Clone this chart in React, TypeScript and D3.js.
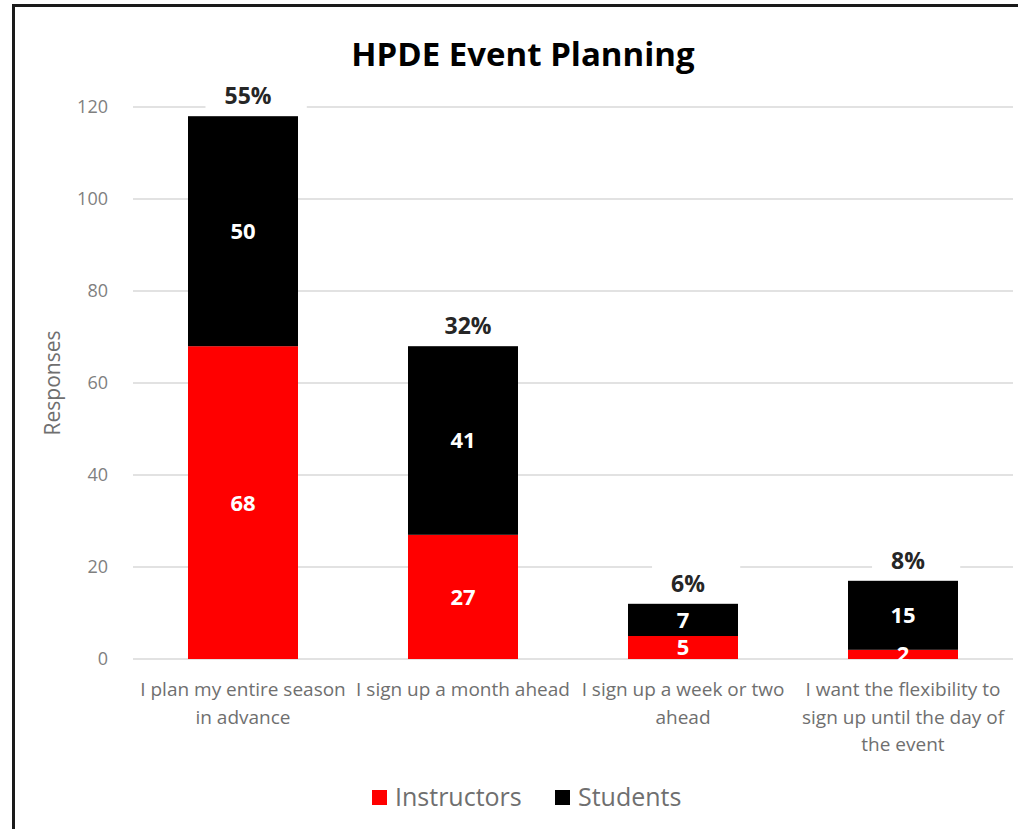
import React, { useEffect, useRef } from "react";
import * as d3 from "d3";

const categories = [
  "I plan my entire season\nin advance",
  "I sign up a month ahead",
  "I sign up a week or two\nahead",
  "I want the flexibility to\nsign up until the day of\nthe event",
];
const instructors = [68, 27, 5, 2];
const students = [50, 41, 7, 15];
const seriesNames = ["Instructors", "Students"];
const seriesColors = ["#ff0000", "#000000"];
const yTicks = [0, 20, 40, 60, 80, 100, 120];

const W = 1018;
const H = 829;
const FONT = "'Open Sans', sans-serif";

export default function App() {
  const ref = useRef<SVGSVGElement | null>(null);

  useEffect(() => {
    const svg = d3.select(ref.current);
    svg.selectAll("*").remove();

    svg.append("rect").attr("width", W).attr("height", H).attr("fill", "#fff");
    // frame
    svg.append("path")
      .attr("d", `M13.5,${H} L13.5,5.5 L${W},5.5`)
      .attr("fill", "none")
      .attr("stroke", "#1a1a1a")
      .attr("stroke-width", 3);

    const x = d3.scaleBand<number>()
      .domain(d3.range(categories.length))
      .range([133, 1013])
      .paddingInner(0.5)
      .paddingOuter(0.25);
    const y = d3.scaleLinear().domain([0, 120]).range([659, 107]);

    const g = svg.append("g");

    // gridlines
    g.selectAll("line.grid")
      .data(yTicks)
      .join("line")
      .attr("x1", 133)
      .attr("x2", 1013)
      .attr("y1", (d) => y(d))
      .attr("y2", (d) => y(d))
      .attr("stroke", "#d9d9d9")
      .attr("stroke-width", 1.3);

    // y tick labels
    g.selectAll("text.ytick")
      .data(yTicks)
      .join("text")
      .attr("x", 108)
      .attr("y", (d) => y(d))
      .attr("dy", "0.35em")
      .attr("text-anchor", "end")
      .attr("font-family", FONT)
      .attr("font-size", 18)
      .attr("fill", "#7f7f7f")
      .text((d) => d);

    // y axis title
    g.append("text")
      .attr("transform", `translate(60,383) rotate(-90)`)
      .attr("text-anchor", "middle")
      .attr("font-family", FONT)
      .attr("font-size", 21)
      .attr("fill", "#6f6f6f")
      .text("Responses");

    // stacked
    const rows = categories.map((c, i) => ({ i, Instructors: instructors[i], Students: students[i] }));
    const stack = d3.stack<any>().keys(seriesNames)(rows);
    const totals = rows.map((r) => r.Instructors + r.Students);
    const grand = d3.sum(totals);
    const pct = d3.format(".0%");

    const bgLayer = g.append("g");
    const barLayer = g.append("g");
    const labelLayer = g.append("g");

    stack.forEach((layer, si) => {
      barLayer.selectAll(`rect.s${si}`)
        .data(layer)
        .join("rect")
        .attr("x", (d: any) => x(d.data.i)!)
        .attr("width", x.bandwidth())
        .attr("y", (d: any) => y(d[1]))
        .attr("height", (d: any) => y(d[0]) - y(d[1]))
        .attr("fill", seriesColors[si]);
    });

    stack.forEach((layer) => {
      labelLayer.selectAll(null)
        .data(layer)
        .join("text")
        .attr("x", (d: any) => x(d.data.i)! + x.bandwidth() / 2)
        .attr("y", (d: any) => (y(d[0]) + y(d[1])) / 2)
        .attr("dy", "0.36em")
        .attr("text-anchor", "middle")
        .attr("font-family", FONT)
        .attr("font-weight", "bold")
        .attr("font-size", 22)
        .attr("fill", "#fff")
        .text((d: any) => d[1] - d[0]);
    });

    totals.forEach((t, i) => {
      const cx = x(i)! + x.bandwidth() / 2;
      const by = y(t) - 12;
      const txt = labelLayer.append("text")
        .attr("x", cx + 5)
        .attr("y", by)
        .attr("text-anchor", "middle")
        .attr("font-family", FONT)
        .attr("font-weight", "bold")
        .attr("font-size", 23)
        .attr("fill", "#262626")
        .text(pct(t / grand));
      const bb = (txt.node() as SVGTextElement).getBBox();
      bgLayer.append("rect")
        .attr("x", bb.x - 19)
        .attr("y", by - 26)
        .attr("width", bb.width + 54)
        .attr("height", 38)
        .attr("fill", "#fff");
    });

    // category labels
    categories.forEach((c, i) => {
      const cx = x(i)! + x.bandwidth() / 2;
      const t = g.append("text")
        .attr("text-anchor", "middle")
        .attr("font-family", FONT)
        .attr("font-size", 19)
        .attr("fill", "#6f6f6f");
      c.split("\n").forEach((line, li) => {
        t.append("tspan").attr("x", cx).attr("y", 696 + li * 27.5).text(line);
      });
    });

    // title
    svg.append("text")
      .attr("x", 523)
      .attr("y", 66)
      .attr("text-anchor", "middle")
      .attr("font-family", FONT)
      .attr("font-weight", "bold")
      .attr("font-size", 33)
      .attr("fill", "#000")
      .text("HPDE Event Planning");

    // legend
    const legendX = [372, 555];
    seriesNames.forEach((n, i) => {
      svg.append("rect")
        .attr("x", legendX[i])
        .attr("y", 790)
        .attr("width", 15)
        .attr("height", 15)
        .attr("fill", seriesColors[i]);
      svg.append("text")
        .attr("x", legendX[i] + 23)
        .attr("y", 806)
        .attr("font-family", FONT)
        .attr("font-size", 25)
        .attr("fill", "#6f6f6f")
        .text(n);
    });
  }, []);

  return (
    <svg
      ref={ref}
      width={W}
      height={H}
      style={{ position: "absolute", left: 0, top: 0, display: "block" }}
    />
  );
}
